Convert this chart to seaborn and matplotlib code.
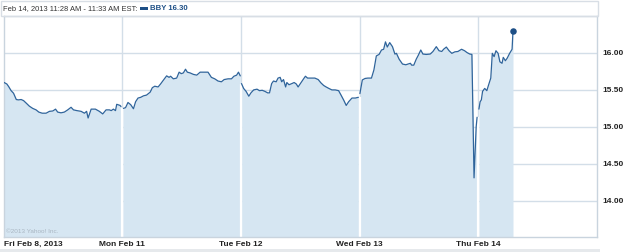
import matplotlib
matplotlib.use("Agg")
import matplotlib.pyplot as plt
import seaborn as sns
import pandas as pd
import numpy as np
from matplotlib.patches import Rectangle

# ---- data (minutes after 9:30 open, price) ----
day_labels = ["Fri Feb 8, 2013", "Mon Feb 11", "Tue Feb 12", "Wed Feb 13", "Thu Feb 14"]

fri_min = [2, 11, 17, 25, 33, 42, 49, 58, 66, 75, 85, 96, 107, 116, 127, 140, 151, 162, 171, 178,
           189, 200, 211, 222, 230, 241, 255, 266, 273, 278, 288, 302, 315, 326, 337, 348, 354, 361,
           368, 372, 376, 383, 386]
fri_px = [15.60, 15.58, 15.545, 15.49, 15.455, 15.37, 15.365, 15.37, 15.355, 15.32, 15.28, 15.25,
          15.23, 15.20, 15.185, 15.185, 15.21, 15.215, 15.24, 15.20, 15.19, 15.20, 15.23, 15.265,
          15.23, 15.22, 15.21, 15.185, 15.21, 15.12, 15.24, 15.24, 15.21, 15.175, 15.23, 15.23,
          15.22, 15.24, 15.22, 15.305, 15.30, 15.29, 15.275]

mon_min = [4, 11, 19, 28, 37, 44, 52, 61, 70, 80, 92, 99, 107, 118, 126, 135, 146, 154, 159, 168,
           179, 187, 194, 201, 208, 214, 223, 234, 245, 256, 269, 282, 293, 304, 315, 326, 335, 348,
           359, 367, 376, 382, 388]
mon_px = [15.25, 15.26, 15.33, 15.30, 15.245, 15.34, 15.39, 15.40, 15.42, 15.43, 15.47, 15.53,
          15.55, 15.54, 15.58, 15.63, 15.69, 15.67, 15.685, 15.65, 15.66, 15.74, 15.72, 15.73,
          15.78, 15.74, 15.73, 15.71, 15.70, 15.74, 15.74, 15.74, 15.67, 15.65, 15.62, 15.61,
          15.64, 15.65, 15.65, 15.685, 15.70, 15.74, 15.69]

tue_min = [2, 9, 17, 26, 33, 42, 53, 61, 70, 79, 88, 94, 101, 107, 116, 122, 129, 134, 140, 147,
           151, 158, 167, 175, 182, 188, 197, 206, 212, 219, 230, 243, 254, 263, 272, 280, 289, 299,
           310, 321, 329, 338, 346, 354, 365, 376, 386]
tue_px = [15.585, 15.52, 15.48, 15.415, 15.46, 15.50, 15.51, 15.49, 15.495, 15.48, 15.46, 15.46,
          15.585, 15.62, 15.61, 15.66, 15.67, 15.61, 15.64, 15.54, 15.60, 15.57, 15.585, 15.60,
          15.58, 15.54, 15.595, 15.65, 15.685, 15.66, 15.66, 15.66, 15.64, 15.595, 15.56, 15.54,
          15.52, 15.50, 15.50, 15.49, 15.43, 15.36, 15.29, 15.34, 15.39, 15.39, 15.40]

wed_min = [1, 9, 18, 27, 39, 47, 55, 64, 72, 79, 85, 91, 99, 108, 116, 121, 130, 141, 152, 159,
           167, 171, 178, 186, 193, 201, 208, 219, 232, 241, 252, 261, 270, 276, 285, 294, 303, 313,
           323, 335, 345, 353, 362, 369, 376, 383, 386]
wed_px = [15.45, 15.635, 15.655, 15.66, 15.66, 15.77, 15.96, 15.98, 16.04, 16.05, 16.15, 16.08,
          16.14, 16.085, 15.985, 15.995, 15.915, 15.85, 15.84, 15.85, 15.86, 15.835, 15.835, 15.915,
          15.97, 16.04, 15.985, 15.98, 15.985, 16.02, 16.085, 16.03, 16.02, 16.05, 16.08, 16.03,
          15.995, 16.015, 16.02, 16.05, 16.03, 16.005, 15.985, 15.98, 14.31, 15.00, 15.13]

thu_min = [2, 6, 10, 14, 21, 28, 34, 41, 46, 52, 58, 65, 71, 78, 82, 89, 95, 103, 111, 114]
thu_px = [15.24, 15.34, 15.365, 15.48, 15.52, 15.49, 15.57, 15.66, 15.995, 15.95, 16.03, 15.995,
          15.88, 15.86, 15.94, 15.895, 15.93, 15.995, 16.05, 16.30]

y_ticks = [14.0, 14.5, 15.0, 15.5, 16.0]
y_tick_labels = ["14.00", "14.50", "15.00", "15.50", "16.00"]
header_text = "Feb 14, 2013 11:28 AM - 11:33 AM EST:"
legend_text = "BBY 16.30"
copyright_text = "\u00a92013 Yahoo! Inc."

SESSION = 390.0
days = [(fri_min, fri_px), (mon_min, mon_px), (tue_min, tue_px), (wed_min, wed_px), (thu_min, thu_px)]
frames = []
for i, (m, p) in enumerate(days):
    frames.append(pd.DataFrame({"t": i + np.array(m) / SESSION, "price": p, "day": i}))
df = pd.concat(frames, ignore_index=True)

# ---- styling ----
sns.set_theme(style="white")
plt.rcParams["font.family"] = ["Liberation Sans", "DejaVu Sans"]

LINE = "#2f649b"
FILL = "#d6e6f2"
GRID = "#d3dee8"
SPINE = "#c9d4de"

fig = plt.figure(figsize=(6.25, 2.52), dpi=100)
ax = fig.add_axes([3.5 / 625, 1 - 237 / 252, (597 - 3.5) / 625, (237 - 16) / 252])
ax.set_facecolor("white")

ymin, ymax = 13.51, 16.50
ax.set_xlim(0, 5)
ax.set_ylim(ymin, ymax)

for yv in y_ticks:
    ax.axhline(yv, color=GRID, lw=1.0, zorder=0.3)
for b in range(1, 5):
    ax.axvline(b, color=GRID, lw=1.0, zorder=0.3)

for i in range(5):
    seg = df[df["day"] == i]
    x0 = i + 0.006
    xs = np.concatenate([[x0], seg["t"].values])
    ys = np.concatenate([[seg["price"].values[0]], seg["price"].values])
    ax.fill_between(xs, ymin, ys, color=FILL, lw=0, zorder=1)
    sns.lineplot(data=seg, x="t", y="price", ax=ax, color=LINE, lw=0.9, zorder=3,
                 estimator=None, sort=False, legend=False)

# white separators through the filled area at day boundaries
for b in range(1, 5):
    prev = df[df["day"] == b - 1]["price"].values[-1]
    nxt = df[df["day"] == b]["price"].values[0]
    ax.vlines(b, ymin, min(prev, nxt), color="white", lw=1.6, zorder=2)

last = df.iloc[-1]
ax.scatter([last["t"]], [last["price"]], s=22, color="#1d4f86", zorder=4, lw=0)

ax.set_xlabel("")
ax.set_ylabel("")
ax.yaxis.tick_right()
ax.set_yticks(y_ticks)
ax.set_yticklabels(y_tick_labels, fontsize=6.0, fontweight="bold", color="#222222")
ax.set_xticks(range(5))
ax.set_xticklabels(day_labels, fontsize=6.0, fontweight="bold", color="#222222")
ax.tick_params(axis="both", length=0)
ax.tick_params(axis="y", pad=4)
ax.tick_params(axis="x", pad=6.3)
for k, lab in enumerate(ax.get_xticklabels()):
    lab.set_verticalalignment("baseline")
    if k == 0:
        lab.set_horizontalalignment("left")
for s in ax.spines.values():
    s.set_color(SPINE)
    s.set_linewidth(1.0)

ax.text(0.004, 0.015, copyright_text, transform=ax.transAxes, fontsize=4.6, color="#a9b6c2",
        ha="left", va="bottom", zorder=5)

# header
fig.patches.append(Rectangle((0.5 / 625, 1 - 16 / 252), 597.5 / 625, 15 / 252,
                             transform=fig.transFigure, fill=False, ec="#d8dee5", lw=1.0))
fig.text(3 / 625, 1 - 8.5 / 252, header_text, fontsize=5.4, color="#333333", ha="left", va="center")
fig.patches.append(Rectangle((140 / 625, 1 - 9.5 / 252), 8 / 625, 3 / 252,
                             transform=fig.transFigure, color="#1d4f86", lw=0))
fig.text(150 / 625, 1 - 8.5 / 252, legend_text, fontsize=5.6, fontweight="bold", color="#1d4f86",
         ha="left", va="center")

# bottom grey strip
fig.patches.append(Rectangle((0, 0), 600 / 625, 3 / 252, transform=fig.transFigure,
                             color="#e6e9ec", lw=0))

fig.savefig("out.png", dpi=100)
